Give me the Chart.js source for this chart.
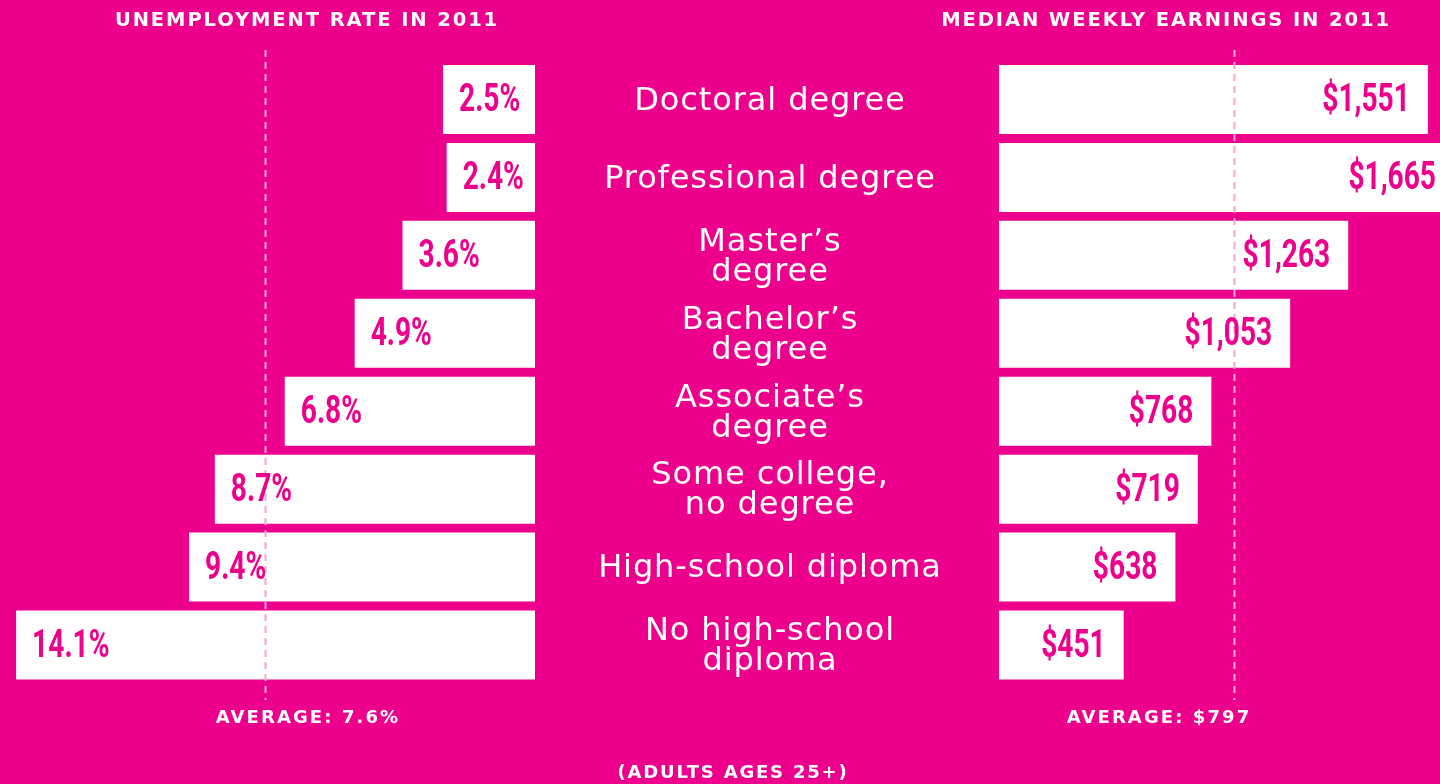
<!DOCTYPE html>
<html>
<head>
<meta charset="utf-8">
<script src="https://cdn.jsdelivr.net/npm/chart.js@4.4.1/dist/chart.umd.min.js"></script>
<style>
  html,body{margin:0;padding:0;background:#EC008C;width:1440px;height:784px;overflow:hidden;}
  #wrap{position:relative;width:1440px;height:784px;}
  #cl{position:absolute;left:0;top:0;}
  #cr{position:absolute;left:535px;top:0;}
  .t{position:absolute;color:#fff;font-family:"DejaVu Sans",sans-serif;font-weight:700;white-space:nowrap;transform:translateX(-50%);line-height:1;}
</style>
</head>
<body>
<div id="wrap">
  <canvas id="cl" width="535" height="784"></canvas>
  <canvas id="cr" width="905" height="784"></canvas>
  <div class="t" id="tl" style="left:307px;top:10px;font-size:19.5px;letter-spacing:1.9px;"></div>
  <div class="t" id="tr" style="left:1166px;top:10px;font-size:19.5px;letter-spacing:1.9px;"></div>
  <div class="t" id="al" style="left:308px;top:708px;font-size:18px;letter-spacing:2.1px;"></div>
  <div class="t" id="ar" style="left:1159px;top:708px;font-size:18px;letter-spacing:2.1px;"></div>
  <div class="t" id="ft" style="left:733px;top:763px;font-size:18px;letter-spacing:1.8px;"></div>
</div>
<script>
// ---- data ----
const categories = [
  ["Doctoral degree"],
  ["Professional degree"],
  ["Master\u2019s", "degree"],
  ["Bachelor\u2019s", "degree"],
  ["Associate\u2019s", "degree"],
  ["Some college,", "no degree"],
  ["High-school diploma"],
  ["No high-school", "diploma"]
];
const unemployment = [2.5, 2.4, 3.6, 4.9, 6.8, 8.7, 9.4, 14.1];
const unemploymentLabels = ["2.5%", "2.4%", "3.6%", "4.9%", "6.8%", "8.7%", "9.4%", "14.1%"];
const earnings = [1551, 1665, 1263, 1053, 768, 719, 638, 451];
const earningsLabels = ["$1,551", "$1,665", "$1,263", "$1,053", "$768", "$719", "$638", "$451"];
const avgUnemploymentMarker = 7.35;   // position of dashed line as drawn
const avgEarningsMarker = 850;        // position of dashed line as drawn
const titles = ["UNEMPLOYMENT RATE IN 2011", "MEDIAN WEEKLY EARNINGS IN 2011"];
const averageLabels = ["AVERAGE: 7.6%", "AVERAGE: $797"];
const footnote = "(ADULTS AGES 25+)";

document.getElementById('tl').textContent = titles[0];
document.getElementById('tr').textContent = titles[1];
document.getElementById('al').textContent = averageLabels[0];
document.getElementById('ar').textContent = averageLabels[1];
document.getElementById('ft').textContent = footnote;

const PINK = '#EC008C';
const DASH = '#F6A6D2';

function avgLinePlugin(value) {
  return {
    id: 'avgLine',
    afterDatasetsDraw(chart) {
      const ctx = chart.ctx;
      const x = Math.round(chart.scales.x.getPixelForValue(value)) + 0.5;
      ctx.save();
      ctx.strokeStyle = DASH;
      ctx.lineWidth = 2;
      ctx.setLineDash([7, 5]);
      ctx.beginPath();
      ctx.moveTo(x, 50);
      ctx.lineTo(x, 700);
      ctx.stroke();
      ctx.restore();
    }
  };
}

function drawCondensed(ctx, text, x, y, align) {
  const sx = 0.74;
  ctx.save();
  ctx.font = '700 38px Roboto, "Liberation Sans", sans-serif';
  ctx.fillStyle = PINK;
  ctx.textBaseline = 'middle';
  ctx.textAlign = align;
  ctx.translate(x, y);
  ctx.scale(sx, 1);
  ctx.fillText(text, 0, 0);
  ctx.restore();
}

const valueLabelsLeft = {
  id: 'valsL',
  afterDraw(chart) {
    const meta = chart.getDatasetMeta(0);
    meta.data.forEach((bar, i) => {
      const left = Math.min(bar.x, bar.base);
      drawCondensed(chart.ctx, unemploymentLabels[i], left + 16, bar.y + 2, 'left');
    });
  }
};
const valueLabelsRight = {
  id: 'valsR',
  afterDraw(chart) {
    const meta = chart.getDatasetMeta(0);
    const ca = chart.chartArea;
    meta.data.forEach((bar, i) => {
      const right = Math.min(Math.max(bar.x, bar.base) - 18, ca.right - 4);
      drawCondensed(chart.ctx, earningsLabels[i], right, bar.y + 2, 'right');
    });
  }
};
const categoryLabels = {
  id: 'cats',
  afterDraw(chart) {
    const ctx = chart.ctx;
    const ys = chart.scales.y;
    ctx.save();
    ctx.font = '400 32px "DejaVu Sans", sans-serif';
    ctx.letterSpacing = '0.9px';
    ctx.fillStyle = '#fff';
    ctx.textAlign = 'center';
    ctx.textBaseline = 'middle';
    const cx = 770 - 535;
    categories.forEach((lines, i) => {
      const cy = ys.getPixelForValue(i);
      const lh = 30;
      const start = cy - (lines.length - 1) * lh / 2 + 2;
      lines.forEach((ln, j) => ctx.fillText(ln, cx, start + j * lh));
    });
    ctx.restore();
  }
};

const common = {
  responsive: false,
  animation: false,
  indexAxis: 'y',
  plugins: { legend: { display: false }, tooltip: { enabled: false } }
};
const barDs = {
  backgroundColor: '#ffffff',
  borderWidth: 0,
  categoryPercentage: 1,
  barPercentage: 0.885
};

new Chart(document.getElementById('cl'), {
  type: 'bar',
  data: { labels: categories.map(c => c.join(' ')), datasets: [Object.assign({ data: unemployment }, barDs)] },
  options: Object.assign({}, common, {
    layout: { padding: { top: 60.5, bottom: 100, left: 0, right: 0 } },
    scales: {
      x: { reverse: true, min: 0, max: 535 / 36.8, display: false },
      y: { display: false }
    }
  }),
  plugins: [avgLinePlugin(avgUnemploymentMarker), valueLabelsLeft]
});

new Chart(document.getElementById('cr'), {
  type: 'bar',
  data: { labels: categories.map(c => c.join(' ')), datasets: [Object.assign({ data: earnings }, barDs)] },
  options: Object.assign({}, common, {
    layout: { padding: { top: 60.5, bottom: 100, left: 464, right: 0 } },
    scales: {
      x: { min: 0, max: 1595, display: false },
      y: { display: false }
    }
  }),
  plugins: [avgLinePlugin(avgEarningsMarker), valueLabelsRight, categoryLabels]
});
</script>
</body>
</html>
